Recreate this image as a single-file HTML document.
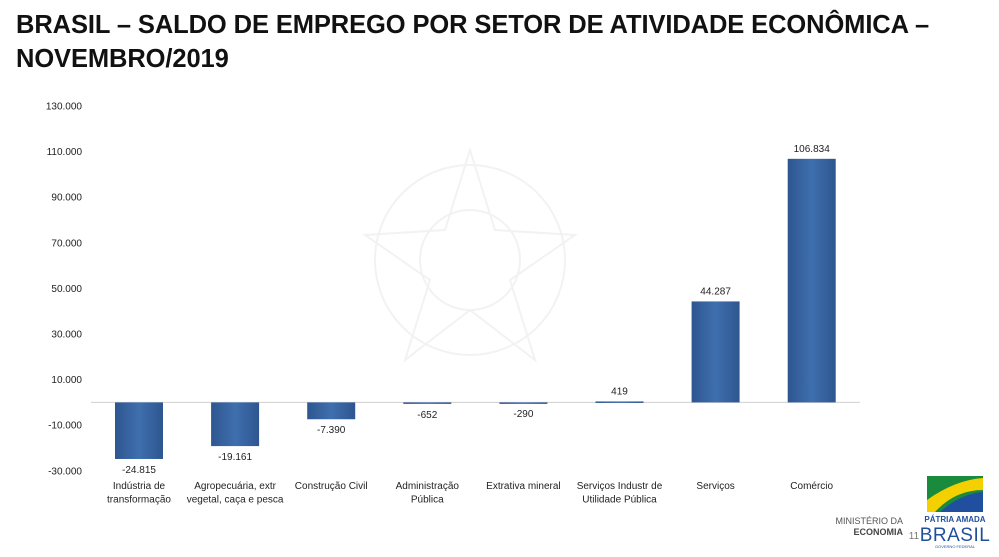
<!DOCTYPE html>
<html><head><meta charset="utf-8">
<style>
body{margin:0;width:999px;height:557px;background:#fff;overflow:hidden;font-family:"Liberation Sans",sans-serif;}
#title{position:absolute;left:16px;top:8px;font-size:25.5px;font-weight:bold;line-height:34px;color:#111;letter-spacing:-0.1px;}
svg{position:absolute;left:0;top:0;}
</style></head><body>
<div id="title">BRASIL – SALDO DE EMPREGO POR SETOR DE ATIVIDADE ECONÔMICA –<br>NOVEMBRO/2019</div>
<svg id="chart" width="999" height="557">
<defs>
<linearGradient id="bg" x1="0" y1="0" x2="1" y2="0">
<stop offset="0" stop-color="#2e5690"/><stop offset="0.5" stop-color="#3f6fae"/><stop offset="1" stop-color="#2e5690"/>
</linearGradient>
</defs>
<g id="watermark" opacity="0.06" fill="none" stroke="#333" stroke-width="2">
<circle cx="470" cy="260" r="95"/><circle cx="470" cy="260" r="50"/>
<polygon points="470,150 495,230 575,235 510,280 535,360 470,310 405,360 430,280 365,235 445,230"/>
</g>
<g id="axis"></g><g id="bars"></g>
<g>
<rect x="927" y="476" width="56" height="36" fill="#1a8a3c"/>
<path d="M927 500 Q955 480 983 478 L983 490 Q955 490 935 512 L927 512Z" fill="#f5d000"/>
<path d="M940 512 Q960 494 983 492 L983 512Z" fill="#1f4f9e"/>
<text x="955" y="522" font-size="8" fill="#1f4f9e" text-anchor="middle" font-weight="bold">PÁTRIA AMADA</text>
<text x="955" y="541" font-size="19" fill="#1f4f9e" text-anchor="middle" letter-spacing="0.5">BRASIL</text>
<text x="955" y="548" font-size="4" fill="#1f4f9e" text-anchor="middle">GOVERNO FEDERAL</text>
<text x="903" y="524" font-size="9" fill="#555" text-anchor="end">MINISTÉRIO DA</text>
<text x="903" y="535" font-size="9" fill="#444" text-anchor="end" font-weight="bold">ECONOMIA</text>
<text x="914" y="539" font-size="10" fill="#777" text-anchor="middle">11</text>
</g>
</svg>
<script>
const categories=[["Indústria de","transformação"],["Agropecuária, extr","vegetal, caça e pesca"],["Construção Civil"],["Administração","Pública"],["Extrativa mineral"],["Serviços Industr de","Utilidade Pública"],["Serviços"],["Comércio"]];
const values=[-24815,-19161,-7390,-652,-290,419,44287,106834];
const valueLabels=["-24.815","-19.161","-7.390","-652","-290","419","44.287","106.834"];
const ticks=[130000,110000,90000,70000,50000,30000,10000,-10000,-30000];
const tickLabels=["130.000","110.000","90.000","70.000","50.000","30.000","10.000","-10.000","-30.000"];
const NS="http://www.w3.org/2000/svg";
const y0=402.4,pxPer=45.6/20000;
function y(v){return y0-v*pxPer;}
function x(i){return 139+i*96.1;}
function mk(t,a,p){const e=document.createElementNS(NS,t);for(const k in a)e.setAttribute(k,a[k]);p.appendChild(e);return e;}
const ax=document.getElementById('axis'),bs=document.getElementById('bars');
ticks.forEach((t,i)=>{const e=mk('text',{x:82,y:y(t)+3.5,'font-size':10,'text-anchor':'end',fill:'#222'},ax);e.textContent=tickLabels[i];

});
const bl=mk('line',{x1:91,x2:860,y1:y(0),y2:y(0),stroke:'#d0d0d0','stroke-width':1},ax);


values.forEach((v,i)=>{
 const top=Math.min(y(v),y(0)),h=Math.max(Math.abs(y(v)-y(0)),1.5);
 const r=mk('rect',{x:x(i)-24,y:top,width:48,height:h,fill:'url(#bg)'},bs);
 
 
 const ly=v>=0?y(v)-7:y(v)+14;
 const l=mk('text',{x:x(i),y:ly,'font-size':10,'text-anchor':'middle',fill:'#222'},bs);l.textContent=valueLabels[i];
 
 
 categories[i].forEach((s,j)=>{const c=mk('text',{x:x(i),y:489+j*13.5,'font-size':10,'text-anchor':'middle',fill:'#222'},bs);c.textContent=s;
 
 });
});
</script>
</body></html>
